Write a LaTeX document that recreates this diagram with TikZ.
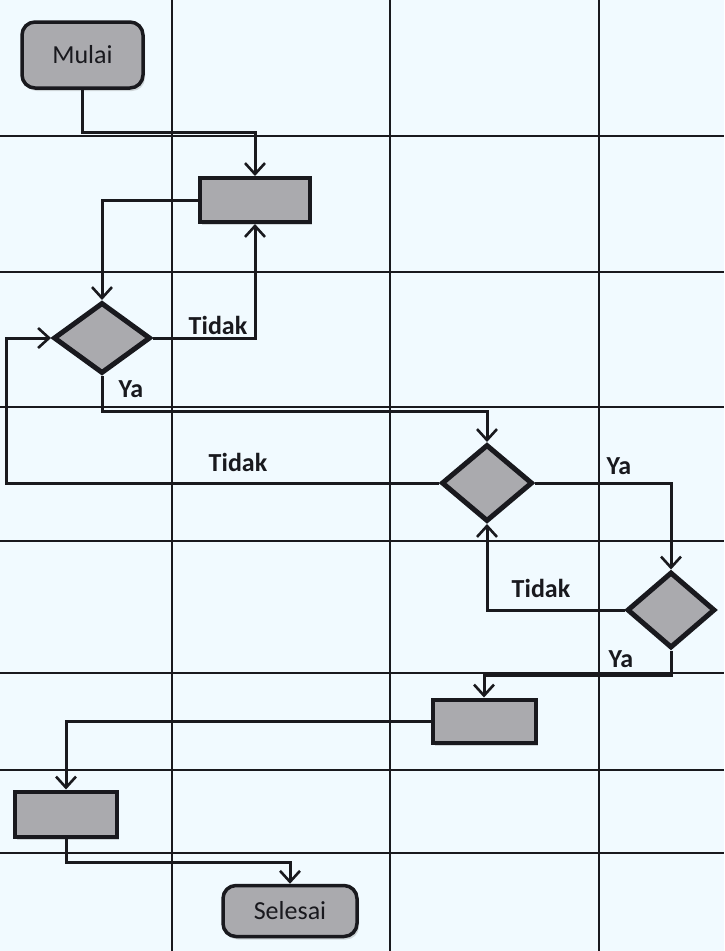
\documentclass[tikz,border=0pt]{standalone}
\usepackage{fontspec}
\setmainfont{Carlito}
\usetikzlibrary{shapes.geometric,arrows.meta,shadows}
\definecolor{bgcol}{RGB}{241,250,255}
\definecolor{nodefill}{RGB}{170,170,174}
\definecolor{inkcol}{RGB}{25,25,30}
\tikzset{
  gridline/.style={line width=2.2pt, draw=inkcol},
  conn/.style={line width=3pt, draw=inkcol, -{Straight Barb[length=11pt,width=20pt,line width=2.6pt]}},
  shad/.style={drop shadow={shadow xshift=2pt,shadow yshift=-3pt,opacity=0.3}},
  termbox/.style={rectangle, rounded corners=13pt, draw=inkcol, line width=3.5pt, fill=nodefill, shad, inner sep=0pt, font=\fontsize{26}{30}\selectfont, text=inkcol},
  procbox/.style={rectangle, draw=inkcol, line width=4pt, fill=nodefill, shad, inner sep=0pt},
  decbox/.style={diamond, draw=inkcol, line width=5pt, fill=nodefill, inner sep=0pt, line join=miter},
  lbl/.style={font=\bfseries\fontsize{26}{30}\selectfont, text=inkcol, inner sep=0pt}
}
\begin{document}
\begin{tikzpicture}[x=1pt,y=1pt]
\fill[bgcol] (0,0) rectangle (724,-951);
\useasboundingbox (0,0) rectangle (724,-951);
% grid
\foreach \gx in {172,390,599} \draw[gridline] (\gx,0) -- (\gx,-951);
\foreach \gy in {136,272,407,541,673,770,853} \draw[gridline] (0,-\gy) -- (724,-\gy);
% nodes
\node[termbox, minimum width=121pt, minimum height=66pt] (mulai) at (82.5,-55) {Mulai};
\node[procbox, minimum width=110pt, minimum height=44pt] (box1) at (255,-200) {};
\node[decbox, minimum width=97pt, minimum height=71pt] (d1) at (102,-338) {};
\node[decbox, minimum width=91pt, minimum height=77pt] (d2) at (487,-483) {};
\node[decbox, minimum width=88pt, minimum height=76pt] (d3) at (671,-610) {};
\node[procbox, minimum width=103pt, minimum height=43pt] (box2) at (484,-721) {};
\node[procbox, minimum width=102pt, minimum height=45pt] (box3) at (66,-814) {};
\node[termbox, minimum width=134pt, minimum height=51pt] (sel) at (290,-911) {Selesai};
\coordinate (loopx) at (6,0);
% connectors
\draw[conn] (mulai.south) -- ++(0,-43) -| (box1.north);
\draw[conn] (box1.west) -| (d1.north);
\draw[conn] (d1.east) -| (box1.south);
\draw[conn] (d1.south) -- ++(0,-35) -| (d2.north);
\draw[conn] (d2.west) -- (d2.west -| loopx) |- (d1.west);
\draw[conn] (d2.east) -| (d3.north);
\draw[conn] (d3.west) -| (d2.south);
\draw[conn] (d3.south) -- ++(0,-25) -| (box2.north);
\draw[conn] (box2.west) -| (box3.north);
\draw[conn] (box3.south) -- ++(0,-24) -| (sel.north);
% labels
\node[lbl] (t1) at (218,-325) {Tidak};
\node[lbl] (y1) at (131,-389) {Ya};
\node[lbl] (t2) at (238,-462) {Tidak};
\node[lbl] (y2) at (619,-466) {Ya};
\node[lbl] (t3) at (541,-588) {Tidak};
\node[lbl] (y3) at (621,-659) {Ya};
\end{tikzpicture}
\end{document}
